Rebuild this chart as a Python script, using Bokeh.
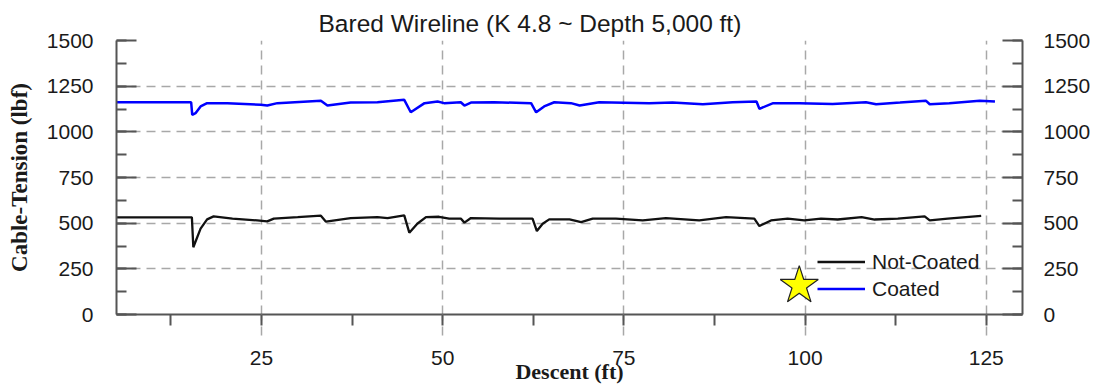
from bokeh.plotting import figure
from bokeh.models import (LinearAxis, Range1d, SingleIntervalTicker, Title,
                          Legend, LegendItem)
from bokeh.embed import file_html
from bokeh.resources import INLINE

# ---- data ----
title_text = "Bared Wireline (K 4.8 ~ Depth 5,000 ft)"
x_label = "Descent (ft)"
y_label = "Cable-Tension (lbf)"
series_names = ["Not-Coated", "Coated"]

not_coated_x = [5, 15.4, 15.6, 16.6, 17.5, 18.4, 21.0, 24.4, 25.8, 26.7, 30.0, 33.2, 33.9,
                37.3, 41.0, 42.4, 44.7, 45.4, 46.5, 47.7, 49.5, 50.9, 52.5, 53.0, 53.9,
                57.8, 62.4, 63.0, 63.8, 64.7, 67.5, 69.1, 70.7, 73.9, 77.6, 80.8, 85.4,
                89.1, 93.0, 93.7, 95.3, 97.6, 99.9, 102.2, 104.5, 107.8, 109.6, 112.8,
                116.5, 117.2, 119.7, 124.3]
not_coated_y = [532, 532, 368, 470, 521, 537, 525, 515, 510, 525, 533, 541, 508,
                528, 533, 528, 543, 448, 497, 533, 535, 525, 525, 503, 528,
                525, 525, 457, 497, 521, 521, 506, 525, 525, 515, 528, 515,
                533, 525, 484, 515, 525, 515, 525, 520, 533, 520, 525,
                537, 515, 525, 540]

coated_x = [5, 15.3, 15.45, 15.9, 16.6, 17.5, 20.3, 24.9, 25.8, 27.2, 33.2, 34.1, 37.3,
            41.0, 44.7, 45.6, 47.5, 49.3, 50.2, 52.5, 53.0, 53.9, 57.1, 62.2, 62.9,
            64.0, 65.4, 67.7, 68.9, 71.6, 78.5, 81.7, 85.9, 90.0, 93.3, 93.7, 95.6,
            99.2, 103.8, 108.4, 109.8, 113.1, 116.7, 117.2, 119.9, 124.1, 126.2]
coated_y = [1162, 1162, 1093, 1102, 1139, 1157, 1157, 1148, 1144, 1157, 1170, 1144, 1160,
            1162, 1175, 1107, 1157, 1166, 1157, 1162, 1144, 1160, 1162, 1157, 1107,
            1139, 1162, 1157, 1144, 1162, 1157, 1160, 1151, 1162, 1166, 1126, 1157,
            1157, 1153, 1162, 1151, 1160, 1170, 1151, 1157, 1170, 1166]

star_x = [99.2]
star_y = [158]

x_start, x_end = 5, 130
y_start, y_end = 0, 1500

FONT = "Liberation Sans"
SERIF = "Liberation Serif"
AX = "#555555"
GRID = "#a8a8a8"

p = figure(width=1099, height=387, x_range=Range1d(x_start, x_end),
           y_range=Range1d(y_start, y_end), output_backend="svg",
           toolbar_location=None, min_border_left=116, min_border_right=77,
           min_border_top=40, min_border_bottom=73)
p.outline_line_color = None
p.background_fill_color = "white"
p.border_fill_color = "white"

p.title = Title(text=title_text, align="left", offset=202, standoff=8,
                text_font=FONT, text_font_size="24.5px", text_font_style="normal",
                text_color="#1a1a1a")

# x axis
xa = p.xaxis[0]
xa.ticker = SingleIntervalTicker(interval=25, num_minor_ticks=2)
xa.axis_line_color = AX
xa.axis_line_width = 2
xa.major_tick_in = 0
xa.major_tick_out = 21
xa.major_tick_line_color = GRID
xa.major_tick_line_width = 1.5
xa.major_tick_line_dash = "9 6"
xa.minor_tick_in = 0
xa.minor_tick_out = 11
xa.minor_tick_line_color = AX
xa.minor_tick_line_width = 2
xa.major_label_standoff = 15
xa.major_label_text_font = FONT
xa.major_label_text_font_size = "21px"
xa.major_label_text_color = "#1a1a1a"
xa.axis_label = x_label
xa.axis_label_text_font = SERIF
xa.axis_label_text_font_style = "bold"
xa.axis_label_text_font_size = "22px"
xa.axis_label_text_color = "#1a1a1a"
xa.axis_label_standoff = -9

# y axes
def style_y(ax, standoff):
    ax.ticker = SingleIntervalTicker(interval=250, num_minor_ticks=2)
    ax.axis_line_color = AX
    ax.axis_line_width = 2
    ax.major_tick_in = 20
    ax.major_tick_out = 0
    ax.minor_tick_in = 10
    ax.minor_tick_out = 0
    ax.major_tick_line_color = AX
    ax.major_tick_line_width = 2
    ax.minor_tick_line_color = AX
    ax.minor_tick_line_width = 2
    ax.major_label_standoff = standoff
    ax.major_label_text_font = FONT
    ax.major_label_text_font_size = "21px"
    ax.major_label_text_color = "#1a1a1a"

ya = p.yaxis[0]
style_y(ya, 23)
ya.axis_label = y_label
ya.axis_label_text_font = SERIF
ya.axis_label_text_font_style = "bold"
ya.axis_label_text_font_size = "23px"
ya.axis_label_text_color = "#1a1a1a"
ya.axis_label_standoff = 12

ra = LinearAxis()
style_y(ra, 21)
p.add_layout(ra, "right")

# grids
p.xgrid.ticker = xa.ticker
p.ygrid.ticker = ya.ticker
for g in (p.xgrid[0], p.ygrid[0]):
    g.grid_line_color = GRID
    g.grid_line_width = 1.5
    g.grid_line_dash = "9 6"

# lines
r_nc = p.line(not_coated_x, not_coated_y, line_color="#111111", line_width=2.3)
r_c = p.line(coated_x, coated_y, line_color="#0000ff", line_width=2.5)

p.scatter(star_x, star_y, marker="star", size=40, fill_color="#ffff00",
          line_color="#222222", line_width=1.2)

legend = Legend(items=[LegendItem(label=series_names[0], renderers=[r_nc]),
                       LegendItem(label=series_names[1], renderers=[r_c])],
                location=(701, 12), glyph_width=48, glyph_height=27,
                label_height=27, label_standoff=7, spacing=0, padding=0, margin=0,
                border_line_color=None, background_fill_alpha=0,
                label_text_font=FONT, label_text_font_size="21px",
                label_text_color="#1a1a1a")
p.add_layout(legend)

open("out.html", "w").write(file_html(p, INLINE))
